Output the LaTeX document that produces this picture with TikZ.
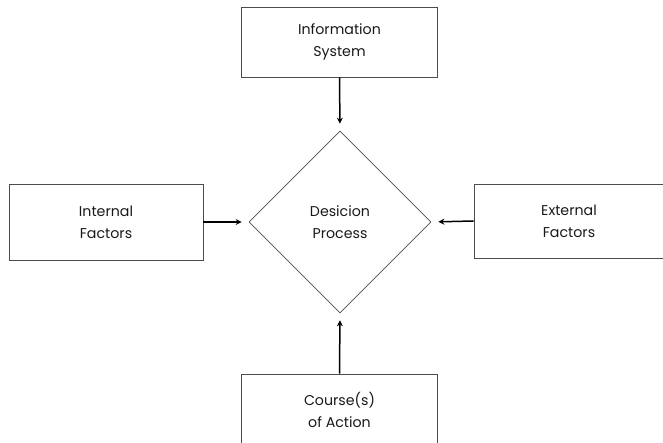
\documentclass[tikz,border=0pt]{standalone}
\usepackage{fontspec}
\setmainfont{Poppins}
\usetikzlibrary{shapes.geometric,arrows.meta}
\begin{document}
\begin{tikzpicture}[x=1pt,y=1pt,
  box/.style={draw=black!70,line width=0.9pt,rectangle,inner sep=0pt,align=center,
    font=\fontsize{14.2}{22}\selectfont,text=black!90},
  arr/.style={line width=1.5pt,-{Stealth[length=6pt,width=6pt]},shorten >=7pt}]
\useasboundingbox (0,0) rectangle (663,443);
\clip (0,0) rectangle (663,443);
% pixel y -> 443 - py
\node[box,minimum width=196pt,minimum height=70pt] (info) at (339.5,401) {Information\\System};
\node[box,minimum width=194pt,minimum height=76pt] (int) at (106,221) {Internal\\Factors};
\node[box,minimum width=190pt,minimum height=74pt] (ext) at (569,222) {External\\Factors};
\node[box,minimum width=196pt,minimum height=72pt] (act) at (339.5,33) {Course(s)\\of Action};
\node[box,diamond,minimum width=182pt,minimum height=182pt,line width=0.7pt] (dec) at (340,221) {Desicion\\Process};
\draw[arr] (info.south) -- (dec.north);
\draw[arr] (int.east) -- (dec.west);
\draw[arr] (ext.west) -- (dec.east);
\draw[arr] (act.north) -- (dec.south);
\end{tikzpicture}
\end{document}
